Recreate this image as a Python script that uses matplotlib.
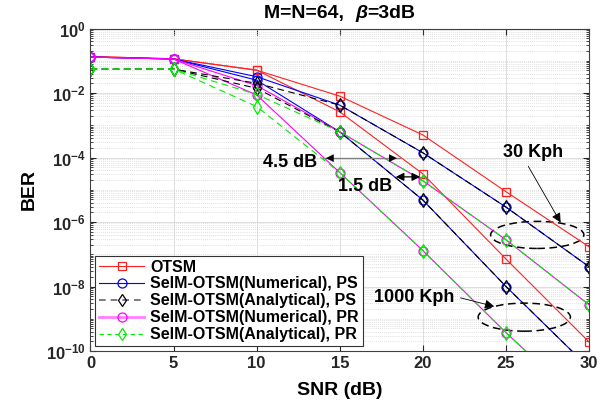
import matplotlib
matplotlib.use('Agg')
import matplotlib.pyplot as plt
from matplotlib.patches import Ellipse
from matplotlib.ticker import LogLocator, NullFormatter, FixedLocator, FuncFormatter
import numpy as np

# ----------------------------------------------------------------------------------------------------------------------
#  DATA
# ----------------------------------------------------------------------------------------------------------------------
snr = [0, 5, 10, 15, 20, 25, 30]

otsm_30      = [0.135, 0.115, 0.051, 8.0e-3, 5.0e-4, 8.7e-6, 1.7e-7]
otsm_1000    = [0.135, 0.115, 0.051, 2.6e-3, 3.1e-5, 7.1e-8, 1.9e-10]
num_ps_30    = [0.13, 0.113, 0.032, 4.2e-3, 1.4e-4, 2.9e-6, 4.1e-8]
num_ps_1000  = [0.13, 0.113, 0.025, 6.2e-4, 4.8e-6, 1.0e-8, 3.0e-11]
ana_ps_30    = [0.055, 0.055, 0.020, 4.2e-3, 1.4e-4, 2.9e-6, 4.1e-8]
ana_ps_1000  = [0.055, 0.055, 0.014, 6.2e-4, 4.8e-6, 1.0e-8, 3.0e-11]
num_pr_30    = [0.13, 0.113, 0.017, 6.3e-4, 1.9e-5, 2.8e-7, 2.7e-9]
num_pr_1000  = [0.13, 0.113, 0.0087, 3.4e-5, 1.3e-7, 3.7e-10, 1.5e-12]
ana_pr_30    = [0.055, 0.055, 0.009, 6.3e-4, 1.9e-5, 2.8e-7, 2.7e-9]
ana_pr_1000  = [0.055, 0.055, 0.0038, 3.4e-5, 1.3e-7, 3.7e-10, 1.5e-12]

legend_labels = ['OTSM',
                 'SelM-OTSM(Numerical), PS',
                 'SelM-OTSM(Analytical), PS',
                 'SelM-OTSM(Numerical), PR',
                 'SelM-OTSM(Analytical), PR']

title_parts = ['M=N=64,  ', 'β', '=3dB']

# ----------------------------------------------------------------------------------------------------------------------
#  STYLE
# ----------------------------------------------------------------------------------------------------------------------
plt.rcParams.update({'font.family': ['Liberation Sans', 'DejaVu Sans'],
                     'font.weight': 'bold',
                     'mathtext.fontset': 'custom',
                     'mathtext.rm': 'Liberation Sans:bold',
                     'mathtext.it': 'Liberation Sans:bold:italic',
                     'mathtext.bf': 'Liberation Sans:bold',
                     'axes.linewidth': 0.8})

dash = (0, (6, 4))
lw = 0.8
ms = 6.5

fig = plt.figure(figsize=(6.13, 4.09), dpi=100)
ax = fig.add_axes([0.1476, 0.1418, 0.8134, 0.7885])

# numerical curves first, analytical dashed on top
for ydata in (otsm_30, otsm_1000):
    ax.plot(snr, ydata, color='#ff2020', marker='s', ms=ms - 0.5, mfc='none', mew=0.9, lw=lw)
for ydata in (num_ps_30, num_ps_1000):
    ax.plot(snr, ydata, color='#0000ff', marker='o', ms=ms, mfc='none', mew=0.9, lw=lw)
for ydata in (num_pr_30, num_pr_1000):
    ax.plot(snr, ydata, color='#ff00ff', marker='o', ms=ms, mfc='none', mew=0.9, lw=lw)
for ydata in (ana_ps_30, ana_ps_1000):
    ax.plot(snr, ydata, color='k', marker='d', ms=ms + 0.5, mfc='none', mew=0.9, lw=lw, ls=dash)
for ydata in (ana_pr_30, ana_pr_1000):
    ax.plot(snr, ydata, color='#00ee00', marker='d', ms=ms + 0.5, mfc='none', mew=0.9, lw=lw, ls=dash)

# legend proxies
h1, = ax.plot([], [], color='#ff2020', marker='s', ms=ms - 1, mfc='none', mew=0.9, lw=lw)
h2, = ax.plot([], [], color='#0000ff', marker='o', ms=ms, mfc='none', mew=0.9, lw=lw)
h3, = ax.plot([], [], color='0.4', marker='d', ms=ms, mfc='none', mec='k', mew=0.9, lw=1.2, ls=(0, (4, 3)))
h4, = ax.plot([], [], color='#ff80ff', marker='o', ms=ms, mfc='none', mec='#ff00ff', mew=0.9, lw=2.0)
h5, = ax.plot([], [], color='#00ee00', marker='d', ms=ms, mfc='none', mew=0.9, lw=lw, ls=(0, (4, 3)))

ax.set_yscale('log')
ax.set_xlim(0, 30)
ax.set_ylim(1e-10, 1)
ax.set_xticks([0, 5, 10, 15, 20, 25, 30])
ax.yaxis.set_major_locator(FixedLocator([10.0 ** k for k in range(-10, 1, 2)]))
ax.yaxis.set_major_formatter(FuncFormatter(lambda v, p: r'$\mathbf{10^{%d}}$' % round(np.log10(v))))
ax.yaxis.set_minor_locator(LogLocator(base=10, subs=np.arange(1, 10), numticks=30))
ax.yaxis.set_minor_formatter(NullFormatter())

ax.tick_params(which='both', direction='in', top=True, right=True, labelsize=12, colors='0.15')
ax.tick_params(which='major', length=4)
ax.tick_params(which='minor', length=2)
for sp in ax.spines.values():
    sp.set_color('0.25')

ax.grid(True, which='major', color='0.85', lw=0.6, ls='-')
ax.grid(True, which='minor', axis='y', color='0.84', lw=0.6, ls=(0, (1, 1.5)))
ax.set_axisbelow(True)

ax.set_xlabel('SNR (dB)', fontsize=14, fontweight='bold', labelpad=8)
ax.set_ylabel('BER', fontsize=14, fontweight='bold', labelpad=6)

# title in three pieces so that beta can be italic while the rest stays bold
title_styles = ['normal', 'italic', 'normal']
fig.canvas.draw()
renderer = fig.canvas.get_renderer()
pieces = [fig.text(0, 0.955, s, fontsize=14, fontweight='bold', fontstyle=st, va='baseline')
          for s, st in zip(title_parts, title_styles)]
widths = [p.get_window_extent(renderer).width for p in pieces]
x_px = ax.get_window_extent(renderer).x0 + ax.get_window_extent(renderer).width / 2 - sum(widths) / 2
for p, w in zip(pieces, widths):
    p.set_x(x_px / fig.bbox.width)
    x_px += w

leg = ax.legend([h1, h2, h3, h4, h5], legend_labels, loc='lower left', fontsize=11.5,
                frameon=True, fancybox=False, edgecolor='0.2', framealpha=1,
                borderaxespad=0.3, handlelength=2.8, handletextpad=0.4,
                labelspacing=0.12, borderpad=0.25)
leg.get_frame().set_linewidth(0.8)

# ----------------------------------------------------------------------------------------------------------------------
#  ANNOTATIONS
# ----------------------------------------------------------------------------------------------------------------------
ax.plot([14.0, 18.6], [10 ** -4.02] * 2, color='0.5', lw=1.0)
ax.annotate('', xy=(14.0, 10 ** -4.02), xytext=(15.2, 10 ** -4.02),
            arrowprops=dict(arrowstyle='-|>', color='k', lw=0.01, mutation_scale=14))
ax.annotate('', xy=(18.6, 10 ** -4.02), xytext=(17.4, 10 ** -4.02),
            arrowprops=dict(arrowstyle='-|>', color='k', lw=0.01, mutation_scale=14))
ax.text(12.0, 10 ** -4.17, '4.5 dB', fontsize=13, fontweight='bold', ha='center', va='center')

ax.annotate('', xy=(18.2, 10 ** -4.6), xytext=(20.0, 10 ** -4.6),
            arrowprops=dict(arrowstyle='<|-|>', color='k', lw=0.9, mutation_scale=12))
ax.text(16.5, 10 ** -4.91, '1.5 dB', fontsize=13, fontweight='bold', ha='center', va='center')

ax.text(26.6, 10 ** -3.86, '30 Kph', fontsize=13, fontweight='bold', ha='center', va='center')
ax.annotate('', xy=(28.37, 10 ** -6.09), xytext=(26.26, 10 ** -4.2),
            arrowprops=dict(arrowstyle='-|>', color='k', lw=0.6, mutation_scale=14))

ax.text(19.5, 10 ** -8.33, '1000 Kph', fontsize=13, fontweight='bold', ha='center', va='center')
ax.annotate('', xy=(24.45, 10 ** -8.64), xytext=(22.1, 10 ** -8.33),
            arrowprops=dict(arrowstyle='-|>', color='k', lw=0.6, mutation_scale=14))

ax.add_patch(Ellipse((0.896, 0.360), 0.187, 0.084, transform=ax.transAxes, fill=False,
                     ec='k', lw=1.1, ls=(0, (5, 3))))
ax.add_patch(Ellipse((0.870, 0.105), 0.185, 0.087, transform=ax.transAxes, fill=False,
                     ec='k', lw=1.1, ls=(0, (5, 3))))

fig.savefig('out.png', dpi=100)
